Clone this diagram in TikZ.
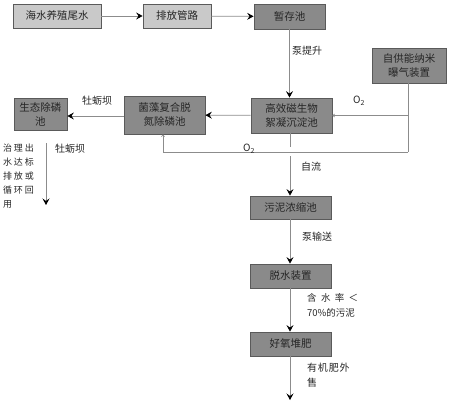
\documentclass[tikz,border=0pt]{standalone}
\usepackage{fontspec}
\setmainfont{Noto Sans CJK SC}
\newfontfamily\widecjk[LetterSpace=20]{Noto Sans CJK SC}
\newfontfamily\loosecjk[LetterSpace=8]{Noto Sans CJK SC}
\usetikzlibrary{arrows.meta}

\begin{document}
\begin{tikzpicture}[x=1pt, y=-1pt,
  box/.style={draw=boxline, line width=0.8pt, inner sep=1pt, align=center,
    text=textcol, font=\fontsize{10.5}{14}\selectfont},
  lightbox/.style={box, fill=lightfill},
  darkbox/.style={box, fill=darkfill},
  flow/.style={draw=linecol, line width=0.7pt,
    -{Stealth[length=6.5pt, width=7pt, inset=2.5pt, black]}},
  air/.style={draw=linecol, line width=0.6pt,
    -{To[length=2.5pt, width=3.5pt]}},
  lbl/.style={anchor=west, inner sep=0pt, text=textcol,
    font=\fontsize{10}{14}\selectfont}]

  % --- Farben ---
  \definecolor{lightfill}{HTML}{C9C9C9}
  \definecolor{darkfill}{HTML}{8A8A8A}
  \definecolor{boxline}{HTML}{5A5A5A}
  \definecolor{linecol}{HTML}{8C8C8C}
  \definecolor{textcol}{HTML}{262626}

  \useasboundingbox (0,0) rectangle (450,404);

  % --- Kaesten ---
  \node[lightbox, minimum width=88pt, minimum height=24pt] (tail) at (57,16) {海水养殖尾水};
  \node[lightbox, minimum width=68pt, minimum height=24pt] (pipe) at (177,16) {排放管路};
  \node[darkbox, minimum width=71pt, minimum height=25pt] (store) at (289.5,16.5) {暂存池};
  \node[darkbox, minimum width=74pt, minimum height=35pt] (aer) at (409,65.5) {自供能纳米\\曝气装置};
  \node[darkbox, minimum width=81pt, minimum height=35pt] (floc) at (291.5,115.5) {高效磁生物\\絮凝沉淀池};
  \node[darkbox, minimum width=81pt, minimum height=38pt] (algae) at (164.5,115) {菌藻复合脱\\氮除磷池};
  \node[darkbox, minimum width=53pt, minimum height=32pt] (eco) at (40.5,114) {生态除磷\\池};
  \node[darkbox, minimum width=81pt, minimum height=23pt] (thick) at (290.5,207.5) {污泥浓缩池};
  \node[darkbox, minimum width=81pt, minimum height=24pt] (dewat) at (290.5,276) {脱水装置};
  \node[darkbox, minimum width=81pt, minimum height=24pt] (comp) at (290.5,344) {好氧堆肥};

  % --- Hilfspunkte ---
  \coordinate (airC) at (408,152);
  \coordinate (gapT) at (290,147);
  \coordinate (gapB) at (290,156);
  \coordinate (outT) at (46,143);
  \coordinate (outB) at (46,205);
  \coordinate (endB) at (290,400);

  % --- Wasserweg ---
  \draw[flow] (tail) -- (pipe);
  \draw[flow] (pipe) -- (store);
  \draw[flow] (store.south) -- (store.south |- floc.north);
  \draw[flow] (floc) -- (algae);
  \draw[flow] (algae.west |- 0,116) -- (eco.east |- 0,116);
  \draw[flow] (outT) -- (outB);

  % --- Belueftung ---
  \draw[linecol, line width=0.6pt] (aer.south -| airC) -- (airC);
  \draw[air] (airC |- floc.east) -- (floc.east);
  \draw[air] (airC) -| ([xshift=-1.5pt]algae.south);

  % --- Schlammweg ---
  \draw[linecol, line width=0.7pt] (floc.south -| gapT) -- (gapT);
  \draw[flow] (gapB) -- (thick.north -| gapB);
  \draw[flow] (thick.south -| gapB) -- (dewat.north -| gapB);
  \draw[flow] (dewat.south -| gapB) -- (comp.north -| gapB);
  \draw[flow] (comp.south -| endB) -- (endB);

  % --- Beschriftungen ---
  \node[lbl] (lPump) at (292,51) {泵提升};
  \node[lbl] (lO2a) at (353,101) {O\textsubscript{2}};
  \node[lbl] (lO2b) at (243,149) {O\textsubscript{2}};
  \node[lbl] (lOys1) at (82,101) {牡蛎坝};
  \node[lbl] (lOys2) at (55,149) {牡蛎坝};
  \node[lbl, anchor=north west, align=left, font=\widecjk\fontsize{9}{14}\selectfont]
    (lOut) at (3,144) {治理出\\水达标\\排放或\\循环回\\用};
  \node[lbl] (lSelf) at (301,167) {自流};
  \node[lbl] (lTrans) at (302,237) {泵输送};
  \node[lbl, anchor=north west, align=left, font=\fontsize{9.5}{15}\selectfont]
    (lWater) at (307,293) {\makebox[51pt][s]{含\hfill 水\hfill 率\hfill ＜}\\70\%的污泥};
  \node[lbl, anchor=north west, align=left, font=\loosecjk\fontsize{10}{15}\selectfont]
    (lSell) at (307,363) {有机肥外\\售};

\end{tikzpicture}
\end{document}
